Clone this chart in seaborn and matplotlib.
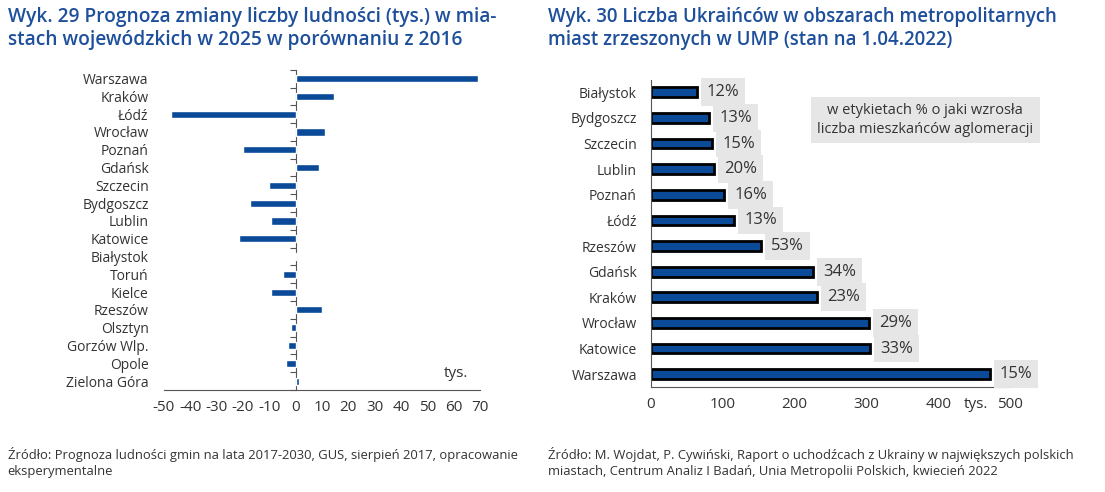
import numpy as np
import pandas as pd
import matplotlib.pyplot as plt
import seaborn as sns

# Wyk. 29 - prognoza zmiany liczby ludnosci (tys.)
miasta_29 = ['Warszawa', 'Kraków', 'Łódź', 'Wrocław', 'Poznań', 'Gdańsk', 'Szczecin',
             'Bydgoszcz', 'Lublin', 'Katowice', 'Białystok', 'Toruń', 'Kielce',
             'Rzeszów', 'Olsztyn', 'Gorzów Wlp.', 'Opole', 'Zielona Góra']
zmiana_29 = [69.3, 14.4, -47.2, 11.0, -20.0, 8.7, -10.1, -17.3, -9.4, -21.5,
             -0.1, -4.8, -9.4, 9.9, -1.8, -2.9, -3.7, 1.1]

# Wyk. 30 - liczba Ukraincow (tys.) i wzrost liczby mieszkancow (%)
miasta_30 = ['Białystok', 'Bydgoszcz', 'Szczecin', 'Lublin', 'Poznań', 'Łódź',
             'Rzeszów', 'Gdańsk', 'Kraków', 'Wrocław', 'Katowice', 'Warszawa']
ukraincy_30 = [64, 81.6, 85.8, 88.6, 102.5, 116.4, 154, 226, 232, 304, 305.6, 472]
wzrost_30 = ['12%', '13%', '15%', '20%', '16%', '13%', '53%', '34%', '23%', '29%', '33%', '15%']

df29 = pd.DataFrame({'miasto': miasta_29, 'zmiana': zmiana_29})
df30 = pd.DataFrame({'miasto': miasta_30, 'ukraincy': ukraincy_30})

sns.set_style('white')
plt.rcParams['font.family'] = ['Open Sans', 'DejaVu Sans']
plt.rcParams['axes.unicode_minus'] = False
plt.rcParams['xtick.major.size'] = 4
plt.rcParams['xtick.major.width'] = 0.8

navy = '#0b4a98'
title_col = '#1e4f9b'
txt_col = '#333333'
spine_col = '#555555'

fig = plt.figure(figsize=(11.05, 4.92), dpi=100)

# ---------------- lewy wykres ----------------
ax1 = fig.add_axes([0.1484, 0.2073, 0.286, 0.651])
sns.barplot(data=df29, y='miasto', x='zmiana', color=navy, width=0.4,
            saturation=1, orient='h', ax=ax1)
ax1.set_xlim(-50, 70)
ax1.set_ylim(len(miasta_29) - 0.5, -0.5)
ax1.set_xticks(np.arange(-50, 71, 10))
ax1.set_xlabel('')
ax1.set_ylabel('')
for s in ['top', 'right', 'left']:
    ax1.spines[s].set_visible(False)
ax1.spines['bottom'].set_color(spine_col)
ax1.tick_params(axis='y', length=0, labelsize=10, colors=txt_col, pad=11)
ax1.tick_params(axis='x', labelsize=11, colors=txt_col, direction='out', color=spine_col)

sec = ax1.secondary_yaxis(0, transform=ax1.transData)
sec.set_yticks(np.arange(-0.5, len(miasta_29), 1))
sec.set_yticklabels([])
sec.tick_params(length=4, direction='out', color=spine_col)
sec.spines['left'].set_color(spine_col)
ax1.text(61, 16.6, 'tys.', ha='center', va='center', fontsize=11, color=txt_col)

# ---------------- prawy wykres ----------------
ax2 = fig.add_axes([0.589, 0.2134, 0.325, 0.625])
sns.barplot(data=df30, y='miasto', x='ukraincy', color=navy, width=0.38,
            saturation=1, orient='h', edgecolor='black', linewidth=2, ax=ax2)
ax2.set_xlim(0, 500)
ax2.set_ylim(len(miasta_30) - 0.5, -0.5)
ax2.set_xticks(np.arange(0, 501, 100))
ax2.set_yticks(np.arange(-0.5, len(miasta_30), 1), minor=True)
ax2.set_xlabel('')
ax2.set_ylabel('')
for s in ['top', 'right']:
    ax2.spines[s].set_visible(False)
ax2.spines['left'].set_color(spine_col)
ax2.spines['bottom'].set_color(spine_col)
ax2.tick_params(axis='y', which='major', length=0, labelsize=10, colors=txt_col, pad=10)
ax2.tick_params(axis='y', which='minor', length=5, direction='out', color=spine_col)
ax2.tick_params(axis='x', labelsize=11, colors=txt_col, direction='out', color=spine_col)

for i, (v, lab) in enumerate(zip(ukraincy_30, wzrost_30)):
    ax2.annotate(lab, xy=(v, i), xytext=(7, 0), textcoords='offset points',
                 va='center', ha='left', fontsize=12, color=txt_col,
                 bbox=dict(boxstyle='square,pad=0.35', fc='#e6e6e6', ec='none'))

ax2.annotate('tys.', xy=(452, 0), xycoords=('data', 'axes fraction'),
             xytext=(0, -7.5), textcoords='offset points', ha='center', va='top',
             fontsize=11, color=txt_col)

ax2.text(382, 1.08, 'w etykietach % o jaki wzrosła\nliczba mieszkańców aglomeracji',
         ha='center', va='center', fontsize=10.5, color=txt_col, linespacing=1.3,
         bbox=dict(boxstyle='square,pad=0.45', fc='#e6e6e6', ec='none'))

# ---------------- tytuly i zrodla ----------------
fig.text(0.007, 0.985, 'Wyk. 29 Prognoza zmiany liczby ludności (tys.) w mia-\n'
         'stach wojewódzkich w 2025 w porównaniu z 2016',
         ha='left', va='top', fontsize=13.8, fontweight='semibold', color=title_col,
         linespacing=1.2)
fig.text(0.496, 0.985, 'Wyk. 30 Liczba Ukraińców w obszarach metropolitarnych\n'
         'miast zrzeszonych w UMP (stan na 1.04.2022)',
         ha='left', va='top', fontsize=13.4, fontweight='semibold', color=title_col,
         linespacing=1.2)

fig.text(0.007, 0.092, 'Źródło: Prognoza ludności gmin na lata 2017-2030, GUS, sierpień 2017, opracowanie\n'
         'eksperymentalne', ha='left', va='top', fontsize=9.4, color=txt_col, linespacing=1.3)
fig.text(0.496, 0.092, 'Źródło: M. Wojdat, P. Cywiński, Raport o uchodźcach z Ukrainy w największych polskich\n'
         'miastach, Centrum Analiz I Badań, Unia Metropolii Polskich, kwiecień 2022',
         ha='left', va='top', fontsize=9.4, color=txt_col, linespacing=1.3)

fig.savefig('out.png', dpi=100)
